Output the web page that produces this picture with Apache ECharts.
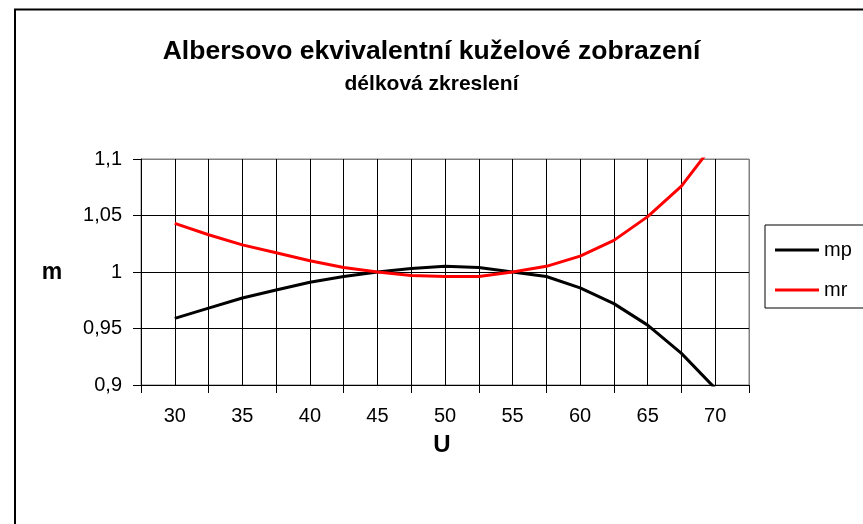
<!DOCTYPE html>
<html><head><meta charset="utf-8">
<script src="https://cdn.jsdelivr.net/npm/echarts@6/dist/echarts.min.js"></script>
<style>html,body{margin:0;padding:0;background:#fff}#c{width:863px;height:524px}</style>
</head><body><div id="c"></div>
<script>
// ---- data ----
const U  = [30, 32.5, 35, 37.5, 40, 42.5, 45, 47.5, 50, 52.5, 55, 57.5, 60, 62.5, 65, 67.5, 70];
const mp = [0.959, 0.968, 0.977, 0.984, 0.991, 0.996, 1.000, 1.003, 1.005, 1.004, 1.000, 0.996, 0.986, 0.972, 0.953, 0.928, 0.897];
const mr = [1.043, 1.033, 1.024, 1.017, 1.010, 1.004, 1.000, 0.997, 0.996, 0.996, 1.000, 1.005, 1.014, 1.028, 1.049, 1.076, 1.115];
const xLabels = ['30', '35', '40', '45', '50', '55', '60', '65', '70'];
const yTicks = [0.9, 0.95, 1, 1.05, 1.1];
const seriesNames = ['mp', 'mr'];
const titleText = 'Albersovo ekvivalentní kuželové zobrazení';
const subtitleText = 'délková zkreslení';
const yName = 'm';
const xName = 'U';

// ---- chart ----
const FONT = "'Liberation Sans', Arial, sans-serif";
const xMin = 27.5, xMax = 72.5, xStep = 2.5;
const nX = Math.round((xMax - xMin) / xStep) + 1;
const vColors = Array.from({length: nX}, (_, i) => i === nX - 1 ? '#808080' : '#000000');
const hColors = yTicks.map((_, i) => i === yTicks.length - 1 ? '#808080' : '#000000');

const chart = echarts.init(document.getElementById('c'), null, {renderer: 'canvas'});
const option = {
  animation: false,
  backgroundColor: '#ffffff',
  textStyle: {fontFamily: FONT},
  title: [
    {text: titleText, left: 'center', top: 38, padding: 0,
     textStyle: {fontFamily: FONT, fontSize: 26.5, fontWeight: 'bold', color: '#000'}},
    {text: subtitleText, left: 'center', top: 74, padding: 0,
     textStyle: {fontFamily: FONT, fontSize: 21, fontWeight: 'bold', color: '#000'}}
  ],
  grid: {left: 141, right: 114, top: 159, bottom: 139, show: true,
         borderColor: '#808080', borderWidth: 1, backgroundColor: '#ffffff'},
  legend: {
    orient: 'vertical', left: 765, top: 225,
    data: seriesNames, icon: 'rect', itemWidth: 44, itemHeight: 3, itemGap: 20,
    padding: [15, 40, 8, 10], borderColor: '#000', borderWidth: 1,
    textStyle: {fontFamily: FONT, fontSize: 20, color: '#000'}
  },
  xAxis: [
    {type: 'category', data: xLabels, boundaryGap: true, position: 'bottom',
     axisLine: {show: true, lineStyle: {color: '#000', width: 1}},
     axisTick: {show: true, length: 8, lineStyle: {color: '#000', width: 1}},
     axisLabel: {margin: 21, fontSize: 20, color: '#000', fontFamily: FONT},
     splitLine: {show: false}},
    {type: 'value', min: xMin, max: xMax, interval: xStep, position: 'bottom',
     axisLine: {show: false}, axisTick: {show: false}, axisLabel: {show: false},
     splitLine: {show: true, lineStyle: {color: vColors, width: 1}}}
  ],
  yAxis: {
    type: 'value', min: yTicks[0], max: yTicks[yTicks.length - 1], interval: 0.05,
    axisLine: {show: true, lineStyle: {color: '#000', width: 1}},
    axisTick: {show: true, length: 8, lineStyle: {color: '#000', width: 1}},
    axisLabel: {margin: 19, fontSize: 20, color: '#000', fontFamily: FONT,
      formatter: v => String(+(+v).toFixed(2)).replace('.', ',')},
    splitLine: {show: true, lineStyle: {color: hColors, width: 1}}
  },
  series: [
    {name: seriesNames[0], type: 'line', xAxisIndex: 1, symbol: 'none', showSymbol: false,
     data: U.map((u, i) => [u, mp[i]]), clip: true,
     lineStyle: {color: '#000000', width: 3}, itemStyle: {color: '#000000'}},
    {name: seriesNames[1], type: 'line', xAxisIndex: 1, symbol: 'none', showSymbol: false,
     data: U.map((u, i) => [u, mr[i]]), clip: true,
     lineStyle: {color: '#ff0000', width: 3}, itemStyle: {color: '#ff0000'}}
  ],
  graphic: [
    {type: 'rect', shape: {x: 15, y: 9.5, width: 900, height: 600}, silent: true,
     style: {fill: null, stroke: '#000', lineWidth: 2}, z: 100},
    {type: 'text', x: 52, y: 273, silent: true,
     style: {text: yName, fontFamily: FONT, fontSize: 23, fontWeight: 'bold', fill: '#000',
             textAlign: 'center', textVerticalAlign: 'middle'}},
    {type: 'text', x: 442, y: 445, silent: true,
     style: {text: xName, fontFamily: FONT, fontSize: 24, fontWeight: 'bold', fill: '#000',
             textAlign: 'center', textVerticalAlign: 'middle'}}
  ]
};
chart.setOption(option);
</script>
</body></html>
